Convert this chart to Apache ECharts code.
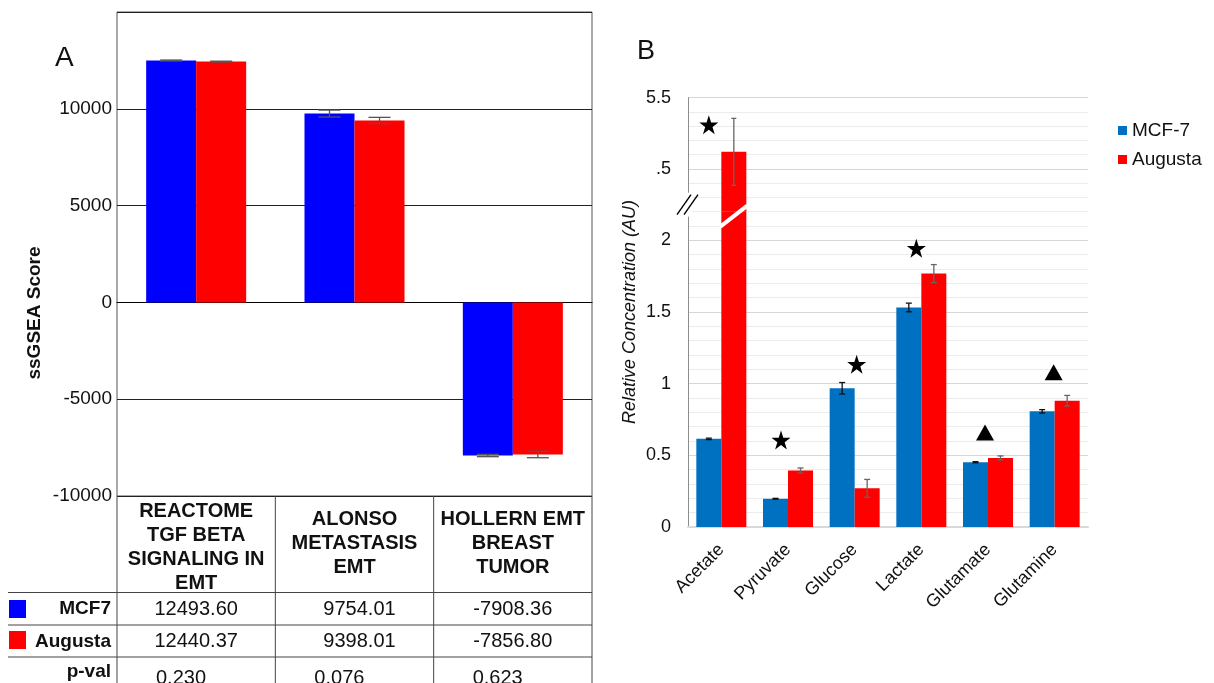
<!DOCTYPE html>
<html><head><meta charset="utf-8">
<script src="https://cdn.jsdelivr.net/npm/echarts@6/dist/echarts.min.js"></script>
<style>html,body{margin:0;padding:0;background:#fff;}#c{width:1214px;height:683px;}</style>
</head><body><div id="c"></div>
<script>
// ---------- Panel A data ----------
const genesets = ['REACTOME\nTGF BETA\nSIGNALING IN\nEMT', 'ALONSO\nMETASTASIS\nEMT', 'HOLLERN EMT\nBREAST\nTUMOR'];
const mcf7Scores = [12493.60, 9754.01, -7908.36];
const augustaScores = [12440.37, 9398.01, -7856.80];
const mcf7ScoreErr = [25, 180, 60];
const augustaScoreErr = [20, 160, 165];
const pValues = ['0.230', '0.076', '0.623'];
const scoreTicks = [-10000, -5000, 0, 5000, 10000];

// ---------- Panel B data ----------
const metabolites = ['Acetate', 'Pyruvate', 'Glucose', 'Lactate', 'Glutamate', 'Glutamine'];
const mcf7Conc = [0.615, 0.197, 0.968, 1.532, 0.452, 0.807];
const mcf7ConcErr = [0.005, 0.003, 0.04, 0.03, 0.004, 0.012];
const augustaConc = [4.74, 0.394, 0.27, 1.768, 0.482, 0.881];
const augustaConcErr = [0.47, 0.018, 0.062, 0.063, 0.014, 0.037];
const sigMarks = ['star', 'star', 'star', 'star', 'triangle', 'triangle'];
const sigLevels = [5.12, 0.607, 1.135, 1.945, 0.66, 1.08];
const lowerTickLabels = ['0', '0.5', '1', '1.5', '2'];
const upperTickLabels = ['.5', '5.5'];   // shown at 4.5 and 5.5 (upper segment of the broken axis)
const upperTickValues = [4.5, 5.5];

// ---------- layout / style ----------
const FONT = '"Liberation Sans", Arial, Helvetica, sans-serif';
const TXT = '#111';
const A = {left: 117, right: 592, top: 12, bottom: 496};
const B = {left: 688, right: 1088, top: 97.7, brk: 211.7, bottom: 527};
const LOW_MAX = 2.2, UP_MIN = 3.9, UP_MAX = 5.5;
const markerNudge = [-12.5, -7, 2, -5, -3, -1];
const starPath = 'path://M50,0L61.8,35.1L98.9,35.1L68.9,56.7L80.2,91.9L50,70L19.8,91.9L31.1,56.7L1.1,35.1L38.2,35.1Z';

const chart = echarts.init(document.getElementById('c'), null, {renderer: 'canvas'});

function errSeries(name, gi, vals, errs, side, color, cap, barW, lo, hi) {
  return {
    type: 'custom', name: name, xAxisIndex: gi, yAxisIndex: gi, z: 5, silent: true,
    data: vals.map((v, i) => [i, v, errs[i]]),
    renderItem: function (params, api) {
      const i = api.value(0), v = api.value(1), e = api.value(2);
      if (v < lo || v > hi) return null;
      const c = api.coord([i, v]);
      const x = c[0] + side * barW / 2;
      const y1 = api.coord([i, v + e])[1], y2 = api.coord([i, v - e])[1];
      const st = {stroke: color, lineWidth: 1.3};
      return {type: 'group', children: [
        {type: 'line', shape: {x1: x, y1: y1, x2: x, y2: y2}, style: st},
        {type: 'line', shape: {x1: x - cap / 2, y1: y1, x2: x + cap / 2, y2: y1}, style: st},
        {type: 'line', shape: {x1: x - cap / 2, y1: y2, x2: x + cap / 2, y2: y2}, style: st}
      ]};
    }
  };
}

function marks(upper) {
  const out = [];
  sigLevels.forEach((y, i) => {
    if ((y > LOW_MAX) !== upper) return;
    const star = sigMarks[i] === 'star';
    out.push({value: [i, y], symbol: star ? starPath : 'triangle',
      symbolSize: star ? 19 : [18, 16], symbolOffset: [markerNudge[i], 0]});
  });
  return out;
}

const lowerSplitColors = [];
for (let k = 0; k <= 22; k++) lowerSplitColors.push(k % 5 === 0 ? '#d6d6d6' : '#ececec');
const upperSplitColors = [];
for (let k = 0; k <= 8; k++) upperSplitColors.push((k === 3 || k === 8) ? '#d6d6d6' : '#ececec');

const option = {
  animation: false,
  backgroundColor: '#fff',
  textStyle: {fontFamily: FONT},
  legend: {
    data: ['MCF-7', 'Augusta'], orient: 'vertical', left: 1113, top: 116,
    itemWidth: 9, itemHeight: 9, itemGap: 10, icon: 'rect',
    textStyle: {fontSize: 19, color: TXT, fontFamily: FONT}
  },
  grid: [
    {left: A.left, top: A.top, width: A.right - A.left, height: A.bottom - A.top, show: true, borderColor: '#555', borderWidth: 1, containLabel: false},
    {left: B.left, top: B.brk, width: B.right - B.left, height: B.bottom - B.brk, containLabel: false},
    {left: B.left, top: B.top, width: B.right - B.left, height: B.brk - B.top, containLabel: false}
  ],
  xAxis: [
    {type: 'category', gridIndex: 0, data: genesets, axisLabel: {show: false}, axisTick: {show: false},
      axisLine: {show: true, onZero: true, lineStyle: {color: '#000', width: 1}}, splitLine: {show: false}},
    {type: 'category', gridIndex: 1, data: metabolites, axisTick: {show: false},
      axisLine: {show: true, lineStyle: {color: '#d9d9d9', width: 2}},
      axisLabel: {rotate: 45, fontSize: 18, color: TXT, margin: 20, fontFamily: FONT}},
    {type: 'category', gridIndex: 2, data: metabolites, show: false}
  ],
  yAxis: [
    {type: 'value', gridIndex: 0, min: -10000, max: 15000, interval: 5000,
      axisLine: {show: false}, axisTick: {show: false},
      splitLine: {show: true, lineStyle: {color: '#222', width: 1}},
      axisLabel: {fontSize: 19, color: TXT, fontFamily: FONT, margin: 5,
        formatter: v => scoreTicks.indexOf(v) >= 0 ? String(v) : ''}},
    {type: 'value', gridIndex: 1, min: 0, max: LOW_MAX, interval: 0.1,
      axisLine: {show: true, lineStyle: {color: '#8c8c8c', width: 1}}, axisTick: {show: false},
      splitLine: {show: true, lineStyle: {color: lowerSplitColors, width: 1}},
      axisLabel: {fontSize: 18, color: TXT, fontFamily: FONT, margin: 17,
        formatter: v => { const k = Math.round(v * 10); return k % 5 === 0 && k / 5 < lowerTickLabels.length ? lowerTickLabels[k / 5] : ''; }}},
    {type: 'value', gridIndex: 2, min: UP_MIN, max: UP_MAX, interval: 0.2,
      axisLine: {show: true, lineStyle: {color: '#8c8c8c', width: 1}}, axisTick: {show: false},
      splitLine: {show: true, lineStyle: {color: upperSplitColors, width: 1}},
      axisLabel: {fontSize: 18, color: TXT, fontFamily: FONT, margin: 17,
        formatter: v => { for (let j = 0; j < upperTickValues.length; j++) if (Math.abs(v - upperTickValues[j]) < 1e-6) return upperTickLabels[j]; return ''; }}}
  ],
  series: [
    {name: 'MCF7', type: 'bar', xAxisIndex: 0, yAxisIndex: 0, data: mcf7Scores, barWidth: 50, barGap: '0%', itemStyle: {color: '#0000FF'}},
    {name: 'Augusta', type: 'bar', xAxisIndex: 0, yAxisIndex: 0, data: augustaScores, barWidth: 50, barGap: '0%', itemStyle: {color: '#FF0000'}},
    errSeries('errA1', 0, mcf7Scores, mcf7ScoreErr, -1, '#555', 22, 50, -1e9, 1e9),
    errSeries('errA2', 0, augustaScores, augustaScoreErr, 1, '#555', 22, 50, -1e9, 1e9),

    {name: 'MCF-7', type: 'bar', xAxisIndex: 1, yAxisIndex: 1, data: mcf7Conc, barWidth: 25, barGap: '0%', clip: true, itemStyle: {color: '#0070C0'}},
    {name: 'Augusta', type: 'bar', xAxisIndex: 1, yAxisIndex: 1, data: augustaConc, barWidth: 25, barGap: '0%', clip: true, itemStyle: {color: '#FF0000'}},
    {name: 'MCF-7', type: 'bar', xAxisIndex: 2, yAxisIndex: 2, data: mcf7Conc, barWidth: 25, barGap: '0%', clip: true, itemStyle: {color: '#0070C0'}},
    {name: 'Augusta', type: 'bar', xAxisIndex: 2, yAxisIndex: 2, data: augustaConc, barWidth: 25, barGap: '0%', clip: true, itemStyle: {color: '#FF0000'}},
    errSeries('errB1', 1, mcf7Conc, mcf7ConcErr, -1, '#111', 6, 25, 0, LOW_MAX),
    errSeries('errB2', 1, augustaConc, augustaConcErr, 1, '#666', 6, 25, 0, LOW_MAX),
    errSeries('errB3', 2, augustaConc, augustaConcErr, 1, '#666', 5, 25, UP_MIN, UP_MAX),
    {type: 'scatter', xAxisIndex: 1, yAxisIndex: 1, data: marks(false), itemStyle: {color: '#000', opacity: 1}, z: 6, silent: true},
    {type: 'scatter', xAxisIndex: 2, yAxisIndex: 2, data: marks(true), itemStyle: {color: '#000', opacity: 1}, z: 6, silent: true}
  ]
};
chart.setOption(option);

// ---------- annotations: table under panel A, titles, axis break ----------
const g = [];
const catW = (A.right - A.left) / genesets.length;
const colX = genesets.map((_, i) => chart.convertToPixel({gridIndex: 0}, [i, 0])[0]);
const rowLines = [592.5, 625, 657];
const lineStyle = {stroke: '#444', lineWidth: 1};
const bounds = [A.left].concat(colX.map(x => x + catW / 2));
bounds.forEach(x => g.push({type: 'line', shape: {x1: x, y1: A.bottom, x2: x, y2: 683}, style: lineStyle, z: 10}));
rowLines.forEach(y => g.push({type: 'line', shape: {x1: 8, y1: y, x2: A.right, y2: y}, style: lineStyle, z: 10}));
function txt(s, x, y, o) {
  g.push({type: 'text', x: x, y: y, z: 11, style: Object.assign({text: s, fill: TXT, fontFamily: FONT, fontSize: 20,
    align: 'center', verticalAlign: 'middle'}, o || {})});
}
genesets.forEach((s, i) => {
  const n = s.split('\n').length;
  txt(s, colX[i], n > 3 ? 547.5 : 543.5, {fontWeight: 'bold', fontSize: 20, lineHeight: 23.7});
});
mcf7Scores.forEach((v, i) => txt(v.toFixed(2), colX[i] + (i === 1 ? 5 : 0), 609));
augustaScores.forEach((v, i) => txt(v.toFixed(2), colX[i] + (i === 1 ? 5 : 0), 641.5));
pValues.forEach((v, i) => txt(v, colX[i] - catW / 2 + 39, 678, {align: 'left'}));
txt('MCF7', 111, 609, {align: 'right', fontWeight: 'bold', fontSize: 19});
txt('Augusta', 111, 641.5, {align: 'right', fontWeight: 'bold', fontSize: 19});
txt('p-val', 111, 672, {align: 'right', fontWeight: 'bold', fontSize: 19});
g.push({type: 'rect', shape: {x: 9, y: 600, width: 17, height: 18}, style: {fill: '#0000FF'}, z: 11});
g.push({type: 'rect', shape: {x: 9, y: 631, width: 17, height: 18}, style: {fill: '#FF0000'}, z: 11});

// panel letters and axis titles
txt('A', 55, 58, {align: 'left', fontSize: 28});
txt('B', 637, 52, {align: 'left', fontSize: 27});
g.push({type: 'text', x: 35, y: 313, rotation: Math.PI / 2, z: 11,
  style: {text: 'ssGSEA Score', fill: TXT, fontFamily: FONT, fontSize: 19, fontWeight: 'bold', align: 'center', verticalAlign: 'middle'}});
g.push({type: 'text', x: 630, y: 312, rotation: Math.PI / 2, z: 11,
  style: {text: 'Relative Concentration (AU)', fill: TXT, fontFamily: FONT, fontSize: 18, fontStyle: 'italic', align: 'center', verticalAlign: 'middle'}});

// axis break marks
const ax = B.left, by = B.brk - 7;
g.push({type: 'rect', shape: {x: ax - 4, y: by - 12, width: 8, height: 24}, style: {fill: '#fff'}, z: 20});
g.push({type: 'line', shape: {x1: ax - 11, y1: by + 10, x2: ax + 3, y2: by - 10}, style: {stroke: '#000', lineWidth: 1.4}, z: 21});
g.push({type: 'line', shape: {x1: ax - 4, y1: by + 10, x2: ax + 10, y2: by - 10}, style: {stroke: '#000', lineWidth: 1.4}, z: 21});
const acX = chart.convertToPixel({gridIndex: 1}, [0, 0])[0];
g.push({type: 'line', shape: {x1: acX - 1, y1: B.brk + 15, x2: acX + 26, y2: B.brk - 6}, style: {stroke: '#fff', lineWidth: 4}, z: 21});

chart.setOption({graphic: {elements: g}});
</script></body></html>
